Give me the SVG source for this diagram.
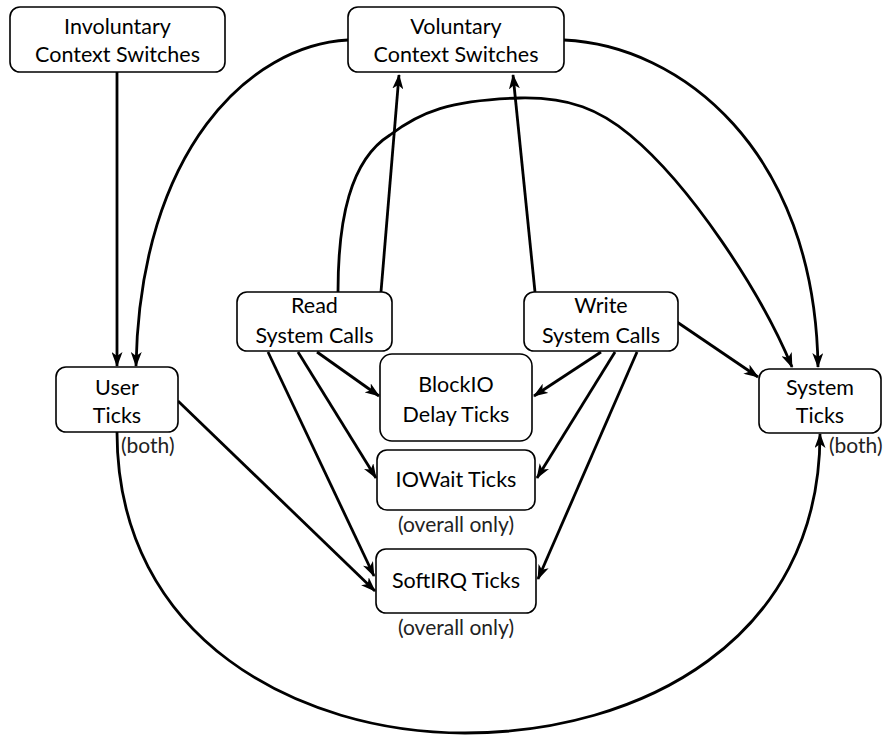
<svg xmlns="http://www.w3.org/2000/svg" width="895" height="735" viewBox="0 0 895 735">
<defs>
<marker id="ah" viewBox="0 0 15 11" refX="14" refY="5.5" markerWidth="15" markerHeight="11" markerUnits="userSpaceOnUse" orient="auto">
<path d="M0,0 L15,5.5 L0,11 L4,5.5 z" fill="#000"/>
</marker>
</defs>
<style>
.box{fill:#fff;stroke:#000;stroke-width:1.6}
.t{font-family:Lato,"Liberation Sans",sans-serif;font-size:21.5px;fill:#000;text-anchor:middle}
.n{font-family:Lato,"Liberation Sans",sans-serif;font-size:21px;fill:#222}
.c{fill:none;stroke:#000;stroke-width:2.8}
.a{marker-end:url(#ah)}
</style>
<rect width="895" height="735" fill="#fff"/>
<g id="connectors">
<path class="c a" d="M117,72 L117,366"/>
<path class="c a" d="M348,40 C250,45 140,150 136,366"/>
<path class="c a" d="M564,40 C680,45 815,150 818,367"/>
<path class="c a" d="M381,292 L399,75"/>
<path class="c a" d="M535,292 L513,75"/>
<path class="c a" d="M338,292 C338,220 350,160 390,135 C420,112 450,100 520,98 C570,97 600,110 630,135 C690,185 760,290 792,367"/>
<path class="c a" d="M677,322 L758,377"/>
<path class="c a" d="M317,352 L379,396"/>
<path class="c a" d="M601,352 L534,396"/>
<path class="c a" d="M298,352 L376,478"/>
<path class="c a" d="M615,352 L537,478"/>
<path class="c a" d="M268,352 L374,576"/>
<path class="c a" d="M637,352 L538,579"/>
<path class="c a" d="M178,401 L375,591"/>
<path class="c a" d="M117,432 C117,640 300,733 465,733 C640,733 820,640 820,434"/>
</g>
<g id="involuntary">
<rect class="box" x="10" y="7" width="215" height="65" rx="10"/>
<text class="t" x="117.5" y="34">Involuntary</text>
<text class="t" x="117.5" y="62">Context Switches</text>
</g>
<g id="voluntary">
<rect class="box" x="348" y="7" width="216" height="65" rx="10"/>
<text class="t" x="456" y="34">Voluntary</text>
<text class="t" x="456" y="62">Context Switches</text>
</g>
<g id="read">
<rect class="box" x="237" y="292" width="155" height="59" rx="10"/>
<text class="t" x="314.5" y="313">Read</text>
<text class="t" x="314.5" y="343">System Calls</text>
</g>
<g id="write">
<rect class="box" x="524" y="292" width="154" height="59" rx="10"/>
<text class="t" x="601" y="313">Write</text>
<text class="t" x="601" y="343">System Calls</text>
</g>
<g id="blockio">
<rect class="box" x="380" y="354" width="152" height="87" rx="12"/>
<text class="t" x="456" y="392">BlockIO</text>
<text class="t" x="456" y="422">Delay Ticks</text>
</g>
<g id="iowait">
<rect class="box" x="377" y="450" width="158" height="60" rx="10"/>
<text class="t" x="456" y="487">IOWait Ticks</text>
<text class="n" x="456" y="532" text-anchor="middle">(overall only)</text>
</g>
<g id="softirq">
<rect class="box" x="376" y="549" width="160" height="64" rx="10"/>
<text class="t" x="456" y="588">SoftIRQ Ticks</text>
<text class="n" x="456" y="635" text-anchor="middle">(overall only)</text>
</g>
<g id="user">
<rect class="box" x="56" y="367" width="122" height="65" rx="10"/>
<text class="t" x="117" y="395">User</text>
<text class="t" x="117" y="423">Ticks</text>
<text class="n" x="121" y="453">(both)</text>
</g>
<g id="system">
<rect class="box" x="759" y="369" width="122" height="64" rx="10"/>
<text class="t" x="820" y="395">System</text>
<text class="t" x="820" y="423">Ticks</text>
<text class="n" x="829" y="453">(both)</text>
</g>
</svg>
